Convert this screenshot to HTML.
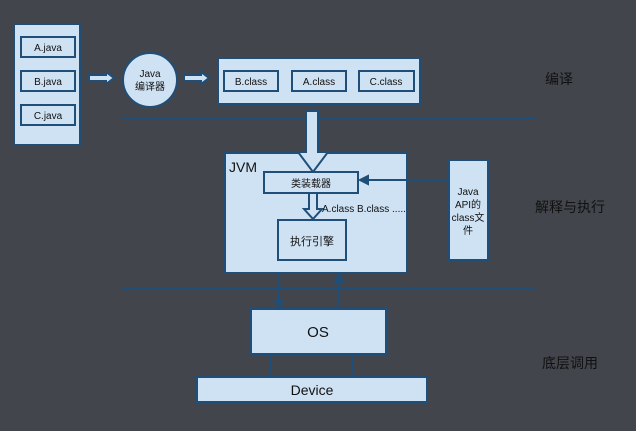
<!DOCTYPE html>
<html><head><meta charset="utf-8"><style>
html,body{margin:0;padding:0;background:#42454c;}
svg{display:block}
text{font-family:"Liberation Sans","Noto Sans CJK SC",sans-serif;fill:#111;}
</style></head><body>
<svg width="636" height="431" viewBox="0 0 636 431" xmlns="http://www.w3.org/2000/svg">
<rect width="636" height="431" fill="#42454c"/>
<g stroke="#1f4e79" stroke-width="2" fill="#cfe2f3">
<rect x="14" y="24" width="66" height="121"/>
<rect x="21" y="37" width="54" height="20"/>
<rect x="21" y="71" width="54" height="20"/>
<rect x="21" y="105" width="54" height="20"/>
<circle cx="150" cy="80" r="27"/>
<rect x="218" y="58" width="202" height="46"/>
<rect x="224" y="71" width="54" height="20"/>
<rect x="292" y="71" width="54" height="20"/>
<rect x="359" y="71" width="55" height="20"/>
<!-- small block arrows -->
<polygon points="89,75 106,75 106,72 114,78 106,84 106,81 89,81"/>
<polygon points="184,75 201,75 201,72 209,78 201,84 201,81 184,81"/>
</g>
<g stroke="#1f4e79" stroke-width="2">
<line x1="122" y1="118" x2="536" y2="118"/>
<line x1="122" y1="288" x2="536" y2="288"/>
</g>
<g stroke="#1f4e79" stroke-width="2" fill="#cfe2f3">
<rect x="225" y="153" width="182" height="120"/>
<polygon points="306,111 318,111 318,152 328,152 313,172 298,152 306,152"/>
<rect x="264" y="172" width="94" height="21"/>
<polygon points="309,193 317,193 317,209 322,209 313,219 304,209 309,209"/>
<rect x="278" y="220" width="68" height="40"/>
<rect x="449" y="160" width="39" height="100"/>
<rect x="251" y="309" width="135" height="45"/>
<rect x="197" y="377" width="230" height="25"/>
</g>
<g stroke="#1f4e79" stroke-width="2" fill="#1f4e79">
<line x1="449" y1="180" x2="366" y2="180"/>
<polygon points="360,180 368,176 368,184"/>
<line x1="279" y1="273" x2="279" y2="302"/>
<polygon points="279,308 275,300 283,300"/>
<line x1="339" y1="309" x2="339" y2="280"/>
<polygon points="339,274 335,282 343,282"/>
<line x1="271" y1="354" x2="271" y2="377"/>
<line x1="353" y1="354" x2="353" y2="377"/>
</g>
<g font-size="10" text-anchor="middle">
<text x="48" y="51">A.java</text>
<text x="48" y="85">B.java</text>
<text x="48" y="119">C.java</text>
<text x="251" y="85">B.class</text>
<text x="319" y="85">A.class</text>
<text x="386" y="85">C.class</text>
<text x="150" y="77">Java</text>
<text x="150" y="90">编译器</text>
<text x="311" y="187">类装载器</text>
<text x="312" y="245" font-size="11">执行引擎</text>
<text x="468" y="195">Java</text>
<text x="468" y="208">API的</text>
<text x="468" y="221">class文</text>
<text x="468" y="234">件</text>
</g>
<text x="229" y="172" font-size="14">JVM</text>
<text x="322" y="212" font-size="10">A.class B.class .....</text>
<text x="318" y="337" font-size="15" text-anchor="middle">OS</text>
<text x="312" y="395" font-size="14" text-anchor="middle">Device</text>
<g font-size="14">
<text x="545" y="84">编译</text>
<text x="535" y="212">解释与执行</text>
<text x="542" y="368">底层调用</text>
</g>
</svg>
</body></html>
